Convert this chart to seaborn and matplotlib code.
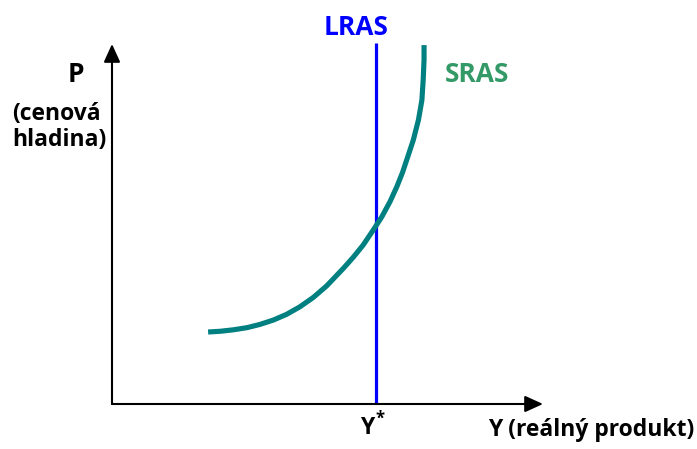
import seaborn as sns
import matplotlib.pyplot as plt
import pandas as pd

# SRAS curve (axis units 0..10 on both axes)
sras_y_out = [2.23, 2.51, 2.81, 3.13, 3.43, 3.74, 4.05, 4.36, 4.67, 4.98, 5.37, 5.60, 5.83,
              6.06, 6.26, 6.45, 6.61, 6.74, 6.86, 6.99, 7.11, 7.19, 7.22, 7.24, 7.24]
sras_p = [2.00, 2.02, 2.06, 2.12, 2.21, 2.33, 2.49, 2.70, 2.96, 3.28, 3.77, 4.08, 4.42,
          4.83, 5.20, 5.62, 6.04, 6.43, 6.86, 7.33, 7.89, 8.44, 9.00, 9.56, 9.97]
lras_y_out = [6.13, 6.13]
lras_p = [0.0, 10.03]

sras = pd.DataFrame({"Y": sras_y_out, "P": sras_p})
lras = pd.DataFrame({"Y": lras_y_out, "P": lras_p})

sns.set_style("white")
plt.rcParams["font.family"] = ["Open Sans", "DejaVu Sans"]
plt.rcParams["text.color"] = "black"

fig = plt.figure(figsize=(6.97, 4.49), dpi=100)
ax = fig.add_axes([112 / 697, 45 / 449, 431 / 697, 360 / 449])
ax.set_xlim(0, 10)
ax.set_ylim(0, 10)
ax.axis("off")

# axes with arrow heads
arrow = dict(arrowstyle="-|>,head_length=1.1,head_width=0.5", color="black", lw=1.5, shrinkA=0, shrinkB=0)
ax.annotate("", xy=(10, 0), xytext=(0, 0), arrowprops=arrow, annotation_clip=False)
ax.annotate("", xy=(0, 10), xytext=(0, 0), arrowprops=arrow, annotation_clip=False)

sns.lineplot(data=lras, x="Y", y="P", sort=False, estimator=None, color="#0000FF", lw=2.3,
             ax=ax, clip_on=False, solid_capstyle="butt")
sns.lineplot(data=sras, x="Y", y="P", sort=False, estimator=None, color="#008080", lw=3.7,
             ax=ax, clip_on=False, solid_capstyle="butt", solid_joinstyle="round")

bold = dict(fontweight="bold", va="center")
ax.text(5.66, 10.47, "LRAS", color="#0000FF", fontsize=19, ha="center", **bold)
ax.text(8.47, 9.14, "SRAS", color="#339966", fontsize=19, ha="center", **bold)
ax.text(-0.84, 9.14, "P", fontsize=19, ha="center", **bold)
ax.text(-2.32, 8.06, "(cenová", fontsize=16.5, ha="left", **bold)
ax.text(-2.32, 7.33, "hladina)", fontsize=16.5, ha="left", **bold)
ax.text(5.92, -0.67, "Y", fontsize=16.5, ha="center", **bold)
ax.text(6.22, -0.40, "*", fontsize=12, ha="center", **bold)
ax.text(11.11, -0.72, "Y (reálný produkt)", fontsize=16.5, ha="center", **bold)

fig.savefig("out.png", dpi=100)
